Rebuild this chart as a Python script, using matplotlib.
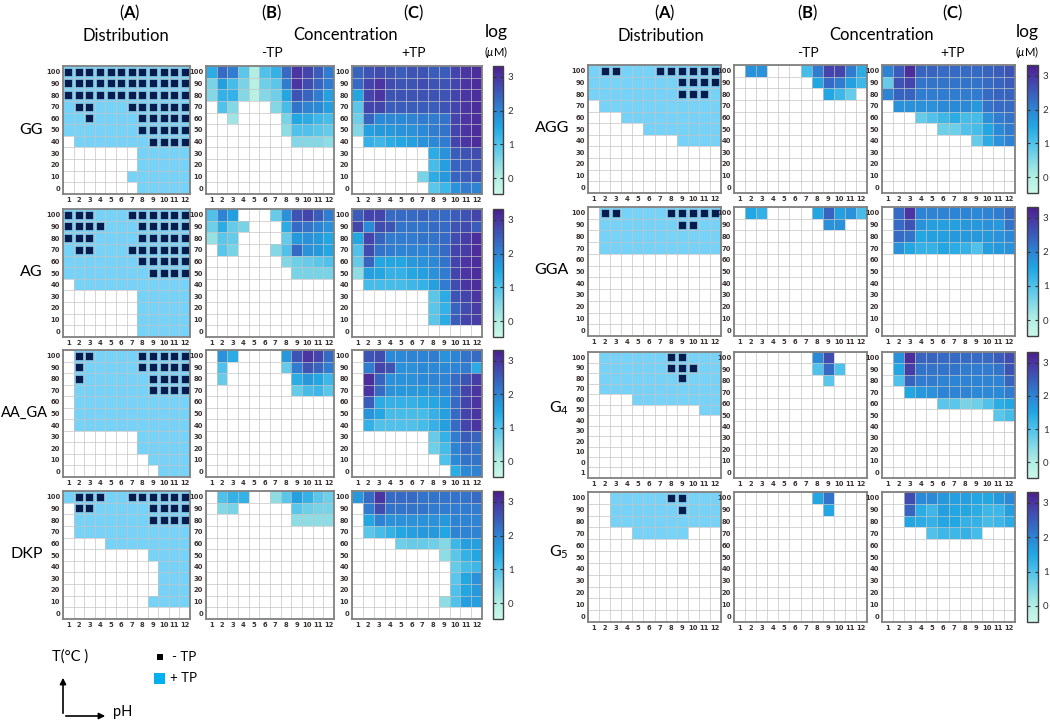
import numpy as np
import matplotlib
matplotlib.use("Agg")
import matplotlib.pyplot as plt
from matplotlib.colors import LinearSegmentedColormap, ListedColormap
from matplotlib.patches import Rectangle, FancyArrowPatch

plt.rcParams['font.family'] = ['Lato', 'DejaVu Sans']
plt.rcParams['mathtext.fontset'] = 'custom'
plt.rcParams['mathtext.rm'] = 'Lato'
plt.rcParams['mathtext.bf'] = 'Lato:bold'
plt.rcParams['mathtext.it'] = 'Lato:italic'

n = None
PH = list(range(1, 13))
TEMPS = [100, 90, 80, 70, 60, 50, 40, 30, 20, 10, 0]
TEMPS_G4_DIST = [100, 90, 80, 70, 60, 50, 40, 30, 20, 10, 0, 1]
CBAR_TICKS = [0, 1, 2, 3]

# Distribution codes per row (T=100 at top): 0 = none, 1 = +TP only, 2 = -TP and +TP
GG_DIST = ["222222222222", "222222222222", "222222222222", "122111222222",
           "112111122222", "111111122222", "011111112222", "000000011111",
           "000000011111", "000000111111", "000000011111"]
AG_DIST = ["222111222222", "222211122222", "222111122222", "122111222222",
           "111111122222", "111111112222", "011111111111", "000000011111",
           "000000011111", "000000011111", "000000011111"]
AAGA_DIST = ["022111122222", "021111122222", "021111112222", "011111112222",
             "011111111111", "011111111111", "011111111111", "000000011111",
             "000000011111", "000000001111", "000000000111"]
DKP_DIST = ["122211222222", "022111112222", "011111112222", "011111111111",
            "000011111111", "000000001111", "000000000111", "000000000111",
            "000000000111", "000000001111", "000000000000"]
AGG_DIST = ["122111222222", "111111112222", "111111112221", "011111111111",
            "000111111111", "000001111111", "000000001111", "000000000000",
            "000000000000", "000000000000", "000000000000"]
GGA_DIST = ["022111122222", "011111112211", "011111111111", "011111111111",
            "000000000000", "000000000000", "000000000000", "000000000000",
            "000000000000", "000000000000", "000000000000"]
G4_DIST = ["011111122111", "011111122211", "011111112111", "011111111111",
           "000011111111", "000000000011", "000000000000", "000000000000",
           "000000000000", "000000000000", "000000000000", "000000000000"]
G5_DIST = ["001111122111", "001111112111", "001111111111", "000011111000",
           "000000000000", "000000000000", "000000000000", "000000000000",
           "000000000000", "000000000000", "000000000000"]

# log(uM) concentrations, rows T=100 downward (missing trailing rows = empty)
GG_MINUS = [
    [1.4, 2.3, 2.1, 0.9, 0.0, 1.0, 1.3, 2.3, 3.0, 2.8, 2.5, 2.1],
    [0.6, 1.6, 1.1, 0.6, -0.1, 0.7, 0.9, 2.1, 3.0, 2.7, 2.4, 2.1],
    [0.5, 1.3, 1.3, 0.5, -0.1, 0.5, 0.7, 1.5, 2.6, 2.4, 2.1, 1.6],
    [n, 1.0, 0.5, n, n, n, 0.5, 1.1, 2.2, 2.0, 1.9, 1.6],
    [n, n, 0.2, n, n, n, n, 0.6, 1.5, 1.4, 1.2, 1.1],
    [n, n, n, n, n, n, n, 0.4, 1.0, 1.0, 0.9, 0.8],
    [n, n, n, n, n, n, n, n, 0.5, 0.5, 0.5, 0.4],
]
GG_PLUS = [
    [2.4, 2.6, 2.7, 2.6, 2.5, 2.6, 2.6, 2.5, 2.5, 2.8, 3.0, 3.1],
    [2.3, 2.8, 3.0, 2.7, 2.6, 2.6, 2.7, 2.6, 2.6, 2.8, 3.0, 3.1],
    [1.5, 2.8, 3.0, 2.6, 2.6, 2.6, 2.6, 2.6, 2.6, 2.8, 3.0, 3.1],
    [0.9, 2.8, 2.8, 2.5, 2.5, 2.5, 2.5, 2.5, 2.6, 2.8, 3.0, 3.1],
    [0.7, 2.4, 1.9, 1.9, 1.9, 2.0, 2.1, 2.1, 2.2, 2.8, 3.0, 3.1],
    [0.5, 1.6, 1.7, 1.7, 1.8, 1.8, 1.9, 2.1, 2.2, 2.8, 3.0, 3.1],
    [n, 1.3, 1.2, 1.4, 1.5, 1.6, 1.8, 1.9, 2.1, 2.8, 3.0, 3.1],
    [n, n, n, n, n, n, n, 1.4, 1.8, 2.5, 2.6, 2.7],
    [n, n, n, n, n, n, n, 1.1, 1.6, 2.4, 2.5, 2.6],
    [n, n, n, n, n, n, 0.6, 1.4, 1.7, 2.4, 2.5, 2.6],
    [n, n, n, n, n, n, n, 0.9, 1.2, 1.8, 2.1, 2.0],
]
AG_MINUS = [
    [1.0, 2.0, 1.6, n, n, n, 0.8, 1.8, 2.6, 2.8, 2.5, 2.1],
    [0.7, 1.4, 0.8, 0.6, n, n, n, 1.4, 2.3, 2.2, 2.0, 1.8],
    [0.3, 0.9, 0.8, n, n, n, n, 0.8, 1.7, 1.8, 1.7, 1.5],
    [n, 0.9, 0.6, n, n, n, 0.5, 1.0, 2.3, 1.8, 1.7, 1.5],
    [n, n, n, n, n, n, n, 0.5, 0.7, 0.8, 0.9, 1.0],
    [n, n, n, n, n, n, n, n, 0.6, 0.6, 0.6, 0.6],
]
AG_PLUS = [
    [2.5, 2.8, 2.8, 2.3, 2.3, 2.3, 2.4, 2.3, 2.3, 2.5, 2.6, 2.8],
    [2.8, 1.9, 2.7, 2.6, 2.2, 2.2, 2.2, 2.3, 2.3, 2.6, 2.7, 2.5],
    [1.5, 2.8, 2.4, 2.1, 2.1, 2.1, 2.2, 2.2, 2.3, 2.7, 2.9, 3.1],
    [1.0, 2.7, 2.2, 2.1, 2.0, 2.0, 2.0, 2.1, 2.3, 2.8, 2.9, 3.1],
    [0.8, 2.4, 1.5, 1.5, 1.5, 1.7, 1.8, 1.9, 2.2, 2.8, 3.0, 3.1],
    [0.4, 1.6, 1.5, 1.3, 1.3, 1.5, 1.6, 1.8, 2.1, 2.8, 3.0, 3.1],
    [n, 1.1, 1.1, 1.1, 1.1, 1.2, 1.3, 1.6, 2.1, 2.7, 3.0, 3.1],
    [n, n, n, n, n, n, n, 0.9, 1.4, 2.6, 2.8, 3.0],
    [n, n, n, n, n, n, n, 0.9, 1.3, 2.4, 2.7, 2.9],
    [n, n, n, n, n, n, n, 0.9, 1.4, 2.5, 2.8, 2.9],
]
AAGA_MINUS = [
    [n, 1.8, 1.4, n, n, n, n, 1.7, 2.6, 3.0, 2.8, 2.3],
    [n, 1.0, n, n, n, n, n, 0.8, 2.1, 2.6, 2.4, 2.1],
    [n, 0.8, n, n, n, n, n, n, 1.4, 1.7, 1.5, 1.2],
    [n, n, n, n, n, n, n, n, 0.8, 1.1, 1.2, 0.9],
]
AAGA_PLUS = [
    [n, 2.6, 2.7, 1.9, 1.9, 2.0, 2.0, 2.1, 1.8, 2.0, 2.2, 2.3],
    [n, 2.1, 2.8, 2.6, 1.8, 1.8, 1.9, 1.9, 1.9, 2.0, 2.1, 1.4],
    [n, 3.1, 2.4, 1.8, 1.8, 1.8, 1.9, 2.0, 2.0, 2.3, 2.6, 2.9],
    [n, 3.0, 2.3, 1.8, 1.7, 1.7, 1.7, 1.8, 1.9, 2.3, 2.8, 3.0],
    [n, 2.5, 1.4, 1.3, 1.3, 1.3, 1.4, 1.5, 1.7, 2.3, 2.8, 3.0],
    [n, 1.8, 1.5, 1.1, 1.1, 1.1, 1.1, 1.3, 1.6, 2.3, 2.8, 3.0],
    [n, 1.3, 1.0, 1.0, 1.0, 1.0, 1.1, 1.3, 1.6, 2.3, 2.8, 3.0],
    [n, n, n, n, n, n, n, 0.8, 1.3, 2.1, 2.5, 2.4],
    [n, n, n, n, n, n, n, 0.7, 1.1, 2.0, 2.3, 2.2],
    [n, n, n, n, n, n, n, n, 1.0, 1.9, 2.2, 2.2],
    [n, n, n, n, n, n, n, n, n, 1.4, 1.9, 2.0],
]
DKP_MINUS = [
    [n, 1.0, 1.3, 1.3, n, n, 0.4, 0.9, 1.6, 1.3, 0.9, 0.7],
    [n, 0.5, 0.6, n, n, n, n, n, 0.9, 0.7, 0.6, 0.6],
    [n, n, n, n, n, n, n, n, 0.4, 0.4, 0.4, 0.4],
]
DKP_PLUS = [
    [1.7, 2.3, 3.0, 2.3, 2.3, 2.3, 2.2, 2.2, 2.2, 2.2, 2.2, 2.3],
    [n, 2.1, 2.7, 2.2, 2.2, 2.2, 2.2, 2.1, 2.1, 2.1, 2.1, 2.1],
    [n, 1.5, 2.0, 1.8, 1.8, 1.8, 1.8, 1.8, 1.7, 2.0, 2.0, 2.0],
    [n, 0.9, 1.1, 1.3, 1.5, 1.6, 1.7, 1.7, 1.5, 2.0, 2.0, 2.0],
    [n, n, n, n, 0.7, 0.8, 0.8, 0.7, 0.5, 1.2, 1.6, 1.6],
    [n, n, n, n, n, n, n, n, 0.4, 0.9, 1.3, 1.5],
    [n, n, n, n, n, n, n, n, n, 0.8, 1.1, 1.2],
    [n, n, n, n, n, n, n, n, n, 0.9, 1.5, 1.8],
    [n, n, n, n, n, n, n, n, n, 1.0, 1.5, 1.7],
    [n, n, n, n, n, n, n, n, 0.4, 1.0, 1.6, 1.6],
]
AGG_MINUS = [
    [n, 1.8, 1.8, n, n, n, 1.1, 2.1, 2.8, 2.8, 2.1, 1.4],
    [n, n, n, n, n, n, n, 1.5, 2.3, 2.1, 1.6, 1.2],
    [n, n, n, n, n, n, n, n, 1.5, 1.2, 0.8, n],
]
AGG_PLUS = [
    [2.0, 2.5, 3.1, 2.4, 2.4, 2.3, 2.3, 2.3, 2.3, 2.4, 2.5, 2.6],
    [0.8, 2.6, 2.8, 2.2, 2.2, 2.2, 2.2, 2.2, 2.2, 2.3, 2.4, 2.5],
    [2.0, 2.4, 2.4, 2.1, 2.1, 2.1, 2.1, 2.1, 2.1, 2.3, 2.4, 2.4],
    [n, 1.8, 1.8, 1.8, 1.8, 1.9, 1.9, 1.9, 1.7, 2.2, 2.3, 2.3],
    [n, n, n, 0.8, 1.0, 1.2, 1.4, 1.1, 1.1, 1.8, 2.1, 2.2],
    [n, n, n, n, n, 0.7, 0.7, 1.0, 1.1, 1.5, 1.9, 2.1],
    [n, n, n, n, n, n, n, n, 0.8, 1.4, 1.8, 2.0],
]
GGA_MINUS = [
    [n, 1.5, 1.3, n, n, n, n, 1.5, 2.4, 1.6, 1.8, 1.1],
    [n, n, n, n, n, n, n, n, 1.8, 1.8, n, n],
]
GGA_PLUS = [
    [n, 2.3, 3.0, 2.0, 2.0, 2.0, 2.0, 2.0, 1.9, 2.0, 2.1, 2.3],
    [n, 2.3, 2.6, 1.8, 1.6, 1.6, 1.6, 1.7, 1.7, 1.8, 1.7, 2.2],
    [n, 2.3, 2.2, 1.5, 1.6, 1.6, 1.7, 1.7, 1.7, 1.7, 1.8, 1.9],
    [n, 1.8, 1.5, 1.3, 1.3, 1.5, 1.4, 1.3, 1.0, 1.6, 1.7, 1.8],
]
G4_MINUS = [
    [n, n, n, n, n, n, n, 1.9, 2.7, n, n, n],
    [n, n, n, n, n, n, n, 1.0, 2.3, 1.0, n, n],
    [n, n, n, n, n, n, n, n, 0.9, n, n, n],
]
G4_PLUS = [
    [n, 1.8, 3.1, 2.4, 2.4, 2.3, 2.3, 2.3, 2.3, 2.3, 2.5, 2.7],
    [n, 1.5, 2.9, 2.2, 2.2, 2.2, 2.2, 2.1, 2.1, 2.1, 2.2, 2.6],
    [n, 1.0, 2.4, 2.1, 2.1, 2.0, 2.0, 2.0, 2.0, 2.0, 2.0, 2.4],
    [n, n, 1.5, 1.7, 1.8, 2.0, 2.0, 2.0, 1.9, 1.9, 1.9, 2.1],
    [n, n, n, n, n, 0.9, 0.9, 0.6, 0.7, 1.0, 1.4, 1.5],
    [n, n, n, n, n, n, n, n, n, n, 0.9, 1.1],
]
G5_MINUS = [
    [n, n, n, n, n, n, n, 1.5, 2.2, n, n, n],
    [n, n, n, n, n, n, n, n, 1.5, n, n, n],
]
G5_PLUS = [
    [n, n, 2.7, 1.9, 1.9, 1.7, 1.6, 1.6, 1.5, 1.5, 1.7, 1.9],
    [n, n, 2.4, 1.4, 1.2, 1.6, 1.5, 1.5, 1.4, 1.2, 1.2, 1.6],
    [n, n, 1.5, 1.4, 1.3, 1.5, 1.5, 1.3, 1.3, 1.1, 1.2, 1.4],
    [n, n, n, n, 1.0, 1.2, 1.2, 1.3, 1.1, n, n, n],
]

LEFT_NAMES = ["GG", "AG", "AA_GA", "DKP"]
RIGHT_NAMES = ["AGG", "GGA", "G$_4$", "G$_5$"]
LEFT_SETS = [(GG_DIST, GG_MINUS, GG_PLUS), (AG_DIST, AG_MINUS, AG_PLUS),
             (AAGA_DIST, AAGA_MINUS, AAGA_PLUS), (DKP_DIST, DKP_MINUS, DKP_PLUS)]
RIGHT_SETS = [(AGG_DIST, AGG_MINUS, AGG_PLUS), (GGA_DIST, GGA_MINUS, GGA_PLUS),
              (G4_DIST, G4_MINUS, G4_PLUS), (G5_DIST, G5_MINUS, G5_PLUS)]

VMIN, VMAX = -0.47, 3.32
stops = [(-0.47, "#cbf8ea"), (0.0, "#b2eee2"), (0.5, "#84d8e6"), (1.0, "#4fc1ea"),
         (1.5, "#22a7e3"), (2.0, "#2d84d5"), (2.5, "#3a5cba"), (3.0, "#4a36a3"),
         (3.32, "#4c1d8c")]
cmap = LinearSegmentedColormap.from_list(
    "conc", [((v - VMIN) / (VMAX - VMIN), c) for v, c in stops])
LIGHT = "#76d3f7"
DARK = "#061c4e"
TICK_COLOR = "#3a3030"
W, H = 1050, 720

fig = plt.figure(figsize=(10.5, 7.2), dpi=100)


def fbox(x0, y0, x1, y1):
    return [x0 / W, 1 - y1 / H, (x1 - x0) / W, (y1 - y0) / H]


def fx(x):
    return x / W


def fy(y):
    return 1 - y / H


def style_axes(ax, labels):
    ny = len(labels)
    ax.set_xlim(0.5, 12.5)
    ax.set_ylim(ny - 0.5, -0.5)
    ax.set_xticks(range(1, 13))
    ax.set_xticklabels([str(p) for p in PH])
    ax.set_yticks(range(ny))
    ax.set_yticklabels([str(t) for t in labels])
    ax.tick_params(length=0, labelsize=4.9, colors=TICK_COLOR, pad=2.0)
    for lab in ax.get_xticklabels() + ax.get_yticklabels():
        lab.set_fontweight('bold')
        lab.set_family('DejaVu Sans')
    for k in range(13):
        ax.axvline(k + 0.5, color="#c4c4c4", lw=0.7, alpha=0.7, zorder=2)
    for k in range(ny + 1):
        ax.axhline(k - 0.5, color="#c4c4c4", lw=0.7, alpha=0.7, zorder=2)
    for s in ax.spines.values():
        s.set_color("#808080")
        s.set_linewidth(1.3)
        s.set_zorder(5)


def to_array(rows, ny):
    arr = np.full((ny, 12), np.nan)
    for i, row in enumerate(rows):
        for j, v in enumerate(row):
            if v is not None:
                arr[i, j] = v
    return arr


def draw_dist(ax, codes, labels):
    ny = len(labels)
    grid = np.array([[int(c) for c in row] for row in codes])
    ax.pcolormesh(np.arange(13) + 0.5, np.arange(ny + 1) - 0.5, (grid >= 1).astype(float),
                  cmap=ListedColormap(["white", LIGHT]), vmin=0, vmax=1, zorder=1)
    yy, xx = np.nonzero(grid == 2)
    ax.scatter(xx + 1, yy, marker='s', s=28, color=DARK, edgecolor="#a7e2f7",
               linewidths=0.4, zorder=4)
    style_axes(ax, labels)


def draw_conc(ax, rows, labels):
    ny = len(labels)
    arr = np.ma.masked_invalid(to_array(rows, ny))
    m = ax.pcolormesh(np.arange(13) + 0.5, np.arange(ny + 1) - 0.5, arr,
                      cmap=cmap, vmin=VMIN, vmax=VMAX, zorder=1)
    style_axes(ax, labels)
    return m


left_cols = [(63, 190), (206, 334), (352, 482), (493, 503)]
right_cols = [(588, 721), (734, 867), (882, 1015), (1027, 1038)]
left_rows = [(66, 194), (209, 337), (350, 477), (491, 619)]
right_rows = [(65, 193), (207, 336), (352, 478), (492, 622)]

for side in range(2):
    cols = left_cols if side == 0 else right_cols
    rows = left_rows if side == 0 else right_rows
    sets = LEFT_SETS if side == 0 else RIGHT_SETS
    for r, (dist, minus, plus) in enumerate(sets):
        y0, y1 = rows[r]
        dist_labels = TEMPS_G4_DIST if (side == 1 and r == 2) else TEMPS
        axd = fig.add_axes(fbox(cols[0][0], y0, cols[0][1], y1))
        draw_dist(axd, dist, dist_labels)
        axm = fig.add_axes(fbox(cols[1][0], y0, cols[1][1], y1))
        draw_conc(axm, minus, TEMPS)
        axp = fig.add_axes(fbox(cols[2][0], y0, cols[2][1], y1))
        mesh = draw_conc(axp, plus, TEMPS)
        cax = fig.add_axes(fbox(cols[3][0], y0, cols[3][1], y1))
        cb = fig.colorbar(mesh, cax=cax, ticks=CBAR_TICKS)
        cb.outline.set_edgecolor("#404040")
        cb.outline.set_linewidth(1.0)
        cax.tick_params(labelsize=7, length=2, width=0.8, direction='in',
                        colors="#303030", left=True, right=True)

# Row labels
for name, y in zip(LEFT_NAMES, [130, 272, 413, 554]):
    if len(name) > 4:
        fig.text(fx(1), fy(y), name, fontsize=10.5, ha='left', va='center')
    else:
        fig.text(fx(43), fy(y), name, fontsize=11.5, ha='right', va='center')
for name, y in zip(RIGHT_NAMES, [128, 270, 408, 552]):
    fig.text(fx(569), fy(y), name, fontsize=11.5, ha='right', va='center')

# Headers
for dist_x, b_x, c_x, conc_x, log_x in [(126, 272, 414, 346, 496),
                                         (661, 808, 953, 882, 1027)]:
    fig.text(fx(dist_x + 4), fy(13), r"($\mathbf{A}$)", fontsize=12, ha='center', va='center')
    fig.text(fx(b_x), fy(13), r"($\mathbf{B}$)", fontsize=12, ha='center', va='center')
    fig.text(fx(c_x), fy(13), r"($\mathbf{C}$)", fontsize=12, ha='center', va='center')
    fig.text(fx(dist_x), fy(36), "Distribution", fontsize=12, ha='center', va='center')
    fig.text(fx(conc_x), fy(35), "Concentration", fontsize=12, ha='center', va='center')
    fig.text(fx(b_x), fy(53), "-TP", fontsize=10, ha='center', va='center')
    fig.text(fx(c_x), fy(53), "+TP", fontsize=10, ha='center', va='center')
    fig.text(fx(log_x), fy(32), "log", fontsize=12.5, ha='center', va='center')
    fig.text(fx(log_x), fy(52), r"($\mu$M)", fontsize=8, ha='center', va='center')

# Axis key (bottom-left)
fig.add_artist(FancyArrowPatch((fx(63), fy(716)), (fx(63), fy(675)), transform=fig.transFigure,
                               arrowstyle='-|>', mutation_scale=9, lw=1.2, color='black'))
fig.add_artist(FancyArrowPatch((fx(63), fy(716)), (fx(108), fy(716)), transform=fig.transFigure,
                               arrowstyle='-|>', mutation_scale=9, lw=1.2, color='black'))
fig.text(fx(70), fy(657), "T(°C )", fontsize=10.5, ha='center', va='center')
fig.text(fx(123), fy(712), "pH", fontsize=10.5, ha='center', va='center')
fig.add_artist(Rectangle((fx(157), fy(660)), 6 / W, 6 / H, transform=fig.transFigure,
                         facecolor="black", edgecolor="none"))
fig.text(fx(172), fy(657), "- TP", fontsize=9.5, ha='left', va='center')
fig.add_artist(Rectangle((fx(154), fy(684)), 11 / W, 11 / H, transform=fig.transFigure,
                         facecolor="#00b0f0", edgecolor="none"))
fig.text(fx(170), fy(678), "+ TP", fontsize=9.5, ha='left', va='center')

fig.savefig("out.png", dpi=100, facecolor='white')
